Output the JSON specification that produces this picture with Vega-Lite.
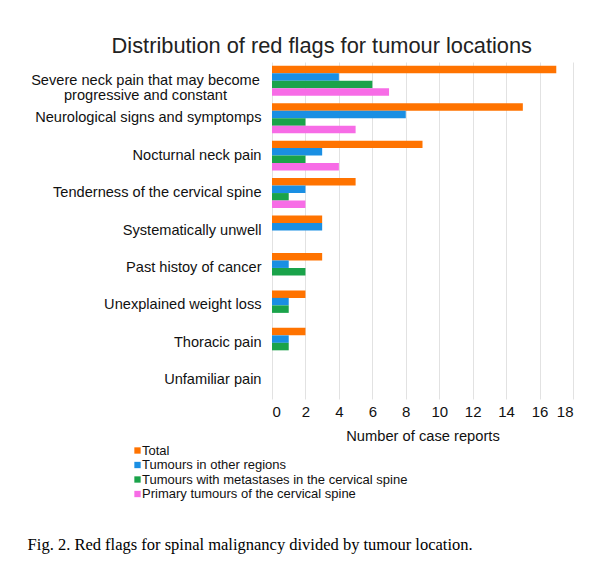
{
  "$schema": "https://vega.github.io/schema/vega-lite/v6.json",
  "background": "white",
  "padding": {"left": 27, "top": 36, "right": 5, "bottom": 5},
  "title": {"text": "Fig. 2.  Red flags for spinal malignancy divided by tumour location.", "orient": "bottom", "anchor": "start", "font": "Liberation Serif", "fontSize": 16.5, "fontWeight": "normal", "color": "black", "offset": 36, "dx": -3},
  "config": {"view": {"stroke": null}, "font": "Liberation Sans"},
  "vconcat": [
    {
      "title": {"text": "Distribution of red flags for tumour locations", "font": "Liberation Sans", "fontSize": 21.8, "fontWeight": "normal", "color": "#222", "anchor": "middle", "frame": "bounds", "offset": 4, "dx": 20},
      "width": 301,
      "height": 337,
      "data": {"values": [
        {"flag": "Severe neck pain that may become|progressive and constant", "series": "Total", "value": 17},
        {"flag": "Severe neck pain that may become|progressive and constant", "series": "Tumours in other regions", "value": 4},
        {"flag": "Severe neck pain that may become|progressive and constant", "series": "Tumours with metastases in the cervical spine", "value": 6},
        {"flag": "Severe neck pain that may become|progressive and constant", "series": "Primary tumours of the cervical spine", "value": 7},
        {"flag": "Neurological signs and symptomps", "series": "Total", "value": 15},
        {"flag": "Neurological signs and symptomps", "series": "Tumours in other regions", "value": 8},
        {"flag": "Neurological signs and symptomps", "series": "Tumours with metastases in the cervical spine", "value": 2},
        {"flag": "Neurological signs and symptomps", "series": "Primary tumours of the cervical spine", "value": 5},
        {"flag": "Nocturnal neck pain", "series": "Total", "value": 9},
        {"flag": "Nocturnal neck pain", "series": "Tumours in other regions", "value": 3},
        {"flag": "Nocturnal neck pain", "series": "Tumours with metastases in the cervical spine", "value": 2},
        {"flag": "Nocturnal neck pain", "series": "Primary tumours of the cervical spine", "value": 4},
        {"flag": "Tenderness of the cervical spine", "series": "Total", "value": 5},
        {"flag": "Tenderness of the cervical spine", "series": "Tumours in other regions", "value": 2},
        {"flag": "Tenderness of the cervical spine", "series": "Tumours with metastases in the cervical spine", "value": 1},
        {"flag": "Tenderness of the cervical spine", "series": "Primary tumours of the cervical spine", "value": 2},
        {"flag": "Systematically unwell", "series": "Total", "value": 3},
        {"flag": "Systematically unwell", "series": "Tumours in other regions", "value": 3},
        {"flag": "Systematically unwell", "series": "Tumours with metastases in the cervical spine", "value": 0},
        {"flag": "Systematically unwell", "series": "Primary tumours of the cervical spine", "value": 0},
        {"flag": "Past histoy of cancer", "series": "Total", "value": 3},
        {"flag": "Past histoy of cancer", "series": "Tumours in other regions", "value": 1},
        {"flag": "Past histoy of cancer", "series": "Tumours with metastases in the cervical spine", "value": 2},
        {"flag": "Past histoy of cancer", "series": "Primary tumours of the cervical spine", "value": 0},
        {"flag": "Unexplained weight loss", "series": "Total", "value": 2},
        {"flag": "Unexplained weight loss", "series": "Tumours in other regions", "value": 1},
        {"flag": "Unexplained weight loss", "series": "Tumours with metastases in the cervical spine", "value": 1},
        {"flag": "Unexplained weight loss", "series": "Primary tumours of the cervical spine", "value": 0},
        {"flag": "Thoracic pain", "series": "Total", "value": 2},
        {"flag": "Thoracic pain", "series": "Tumours in other regions", "value": 1},
        {"flag": "Thoracic pain", "series": "Tumours with metastases in the cervical spine", "value": 1},
        {"flag": "Thoracic pain", "series": "Primary tumours of the cervical spine", "value": 0},
        {"flag": "Unfamiliar pain", "series": "Total", "value": 0},
        {"flag": "Unfamiliar pain", "series": "Tumours in other regions", "value": 0},
        {"flag": "Unfamiliar pain", "series": "Tumours with metastases in the cervical spine", "value": 0},
        {"flag": "Unfamiliar pain", "series": "Primary tumours of the cervical spine", "value": 0}
      ]},
      "mark": {"type": "bar", "strokeWidth": 0},
      "encoding": {
        "y": {"field": "flag", "type": "nominal", "sort": null, "title": null,
          "scale": {"paddingInner": 0.2, "paddingOuter": 0.1},
          "axis": {"labelExpr": "split(datum.label, '|')", "domain": false, "ticks": false, "grid": false, "labelFontSize": 14.6, "labelColor": "#111", "labelLimit": 400, "labelLineHeight": 15,
            "labelAlign": {"condition": {"test": "indexof(datum.label, '|') >= 0", "value": "center"}, "value": "right"},
            "labelPadding": {"condition": {"test": "indexof(datum.label, '|') >= 0", "value": 127}, "value": 11}}},
        "yOffset": {"field": "series", "type": "nominal", "sort": null, "scale": {"paddingInner": 0, "paddingOuter": 0}},
        "x": {"field": "value", "type": "quantitative", "title": "Number of case reports",
          "scale": {"domain": [0, 18], "nice": false},
          "axis": {"values": [0, 2, 4, 6, 8, 10, 12, 14, 16, 18], "domain": false, "ticks": false, "gridColor": "#e2e2e2", "labelFontSize": 15, "labelColor": "#111", "labelPadding": 5, "titleFontSize": 14.7, "titleFontWeight": "normal", "titleColor": "#111", "titlePadding": 9}},
        "color": {"field": "series", "type": "nominal", "sort": null,
          "scale": {"domain": ["Total", "Tumours in other regions", "Tumours with metastases in the cervical spine", "Primary tumours of the cervical spine"], "range": ["#ff7300", "#1a8fe3", "#1aa34a", "#f76ce6"]},
          "legend": {"title": null, "orient": "none", "legendX": -141, "legendY": 382, "symbolType": "square", "symbolSize": 40, "symbolOpacity": 1, "labelFontSize": 13, "labelColor": "#111", "labelOffset": -2, "rowPadding": 0.5, "labelLimit": 400}}
      }
    }
  ]
}
